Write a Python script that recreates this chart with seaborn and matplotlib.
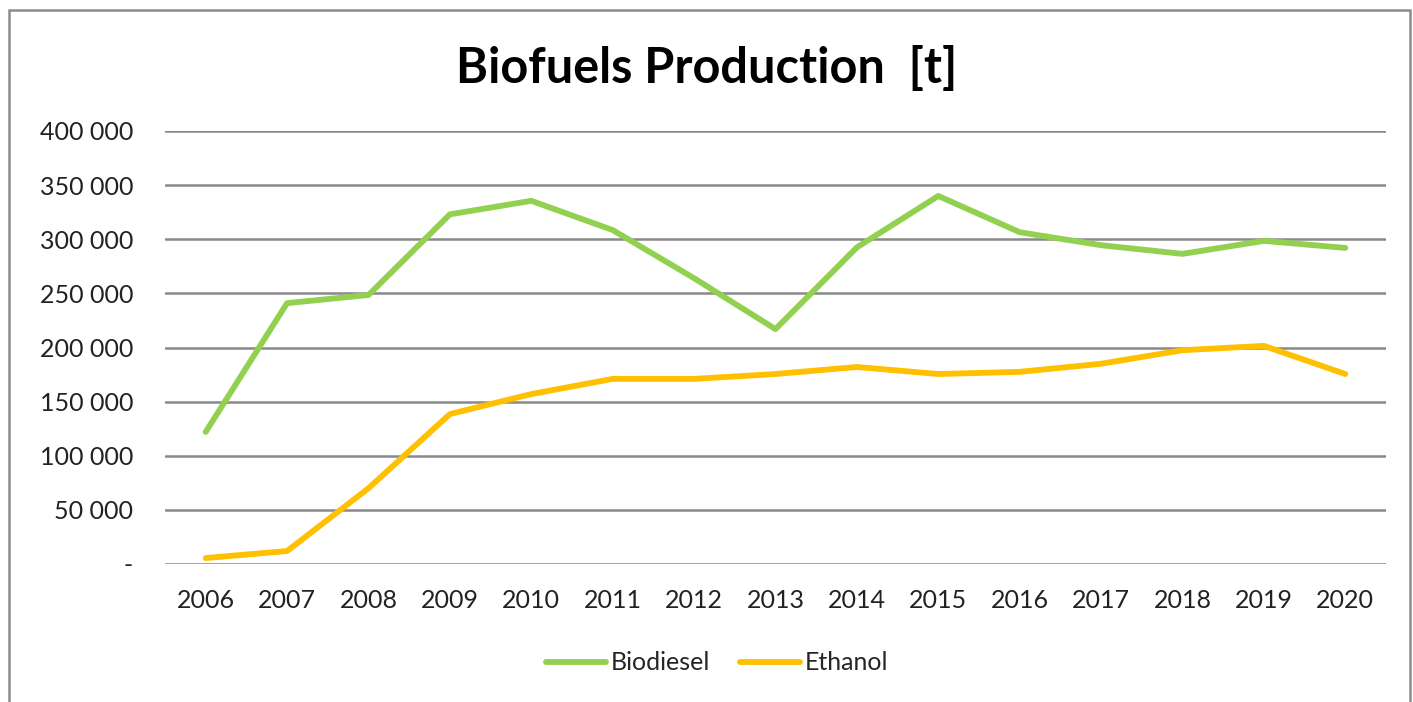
import pandas as pd
import matplotlib
matplotlib.use("Agg")
import matplotlib.pyplot as plt
import seaborn as sns
from matplotlib.ticker import FuncFormatter
from matplotlib.patches import Rectangle

# === DATA ===
years = [str(y) for y in range(2006, 2021)]
biodiesel = [122000, 241000, 248500, 323000, 335500, 308500, 264000, 217000,
             292500, 340000, 306500, 294500, 286500, 298500, 292000]
ethanol = [5500, 12000, 70000, 138500, 157000, 171000, 171000, 175500,
           182000, 175500, 177500, 185000, 197500, 201500, 175500]

df = pd.DataFrame({
    "Year": years * 2,
    "Value": biodiesel + ethanol,
    "Fuel": ["Biodiesel"] * len(years) + ["Ethanol"] * len(years),
})

palette = {"Biodiesel": "#92D050", "Ethanol": "#FFC000"}

sns.set_style("white")
plt.rcParams["font.family"] = ["Lato", "DejaVu Sans"]

fig = plt.figure(figsize=(14.13, 7.02), dpi=100)
ax = fig.add_axes([165 / 1413, 138 / 702, (1386 - 165) / 1413, (564 - 131) / 702])

sns.lineplot(data=df, x="Year", y="Value", hue="Fuel", palette=palette,
             linewidth=4.2, sort=False, ax=ax, solid_capstyle="round")

ax.set_xlim(-0.5, len(years) - 0.5)
ax.set_ylim(0, 400000)
ax.set_yticks(range(0, 400001, 50000))
ax.yaxis.set_major_formatter(FuncFormatter(
    lambda v, p: "-" if v == 0 else f"{int(v):,}".replace(",", " ")))
ax.grid(axis="y", color="#898989", linewidth=1.8)
ax.set_axisbelow(True)
for s in ax.spines.values():
    s.set_visible(False)
ax.tick_params(axis="both", length=0, labelsize=18, colors="#222222")
ax.tick_params(axis="y", pad=23)
ax.tick_params(axis="x", pad=18)
ax.set_xlabel("")
ax.set_ylabel("")

fig.text(0.5, 1 - 68 / 702, "Biofuels Production  [t]", ha="center", va="center",
         fontsize=35, fontweight="bold", color="black")

handles, labels = ax.get_legend_handles_labels()
ax.legend_.remove()
fig.legend(handles, labels, loc="center", bbox_to_anchor=(717 / 1413, 1 - 663 / 702),
           ncol=2, frameon=False, fontsize=18, handlelength=2.4,
           columnspacing=1.2, handletextpad=0.2)

fig.patches.append(Rectangle((9 / 1413, -0.05), (1410 - 9) / 1413, 1.05 - 10 / 702,
                             transform=fig.transFigure, fill=False,
                             edgecolor="#8c8c8c", linewidth=1.8))

fig.savefig("out.png", dpi=100)
